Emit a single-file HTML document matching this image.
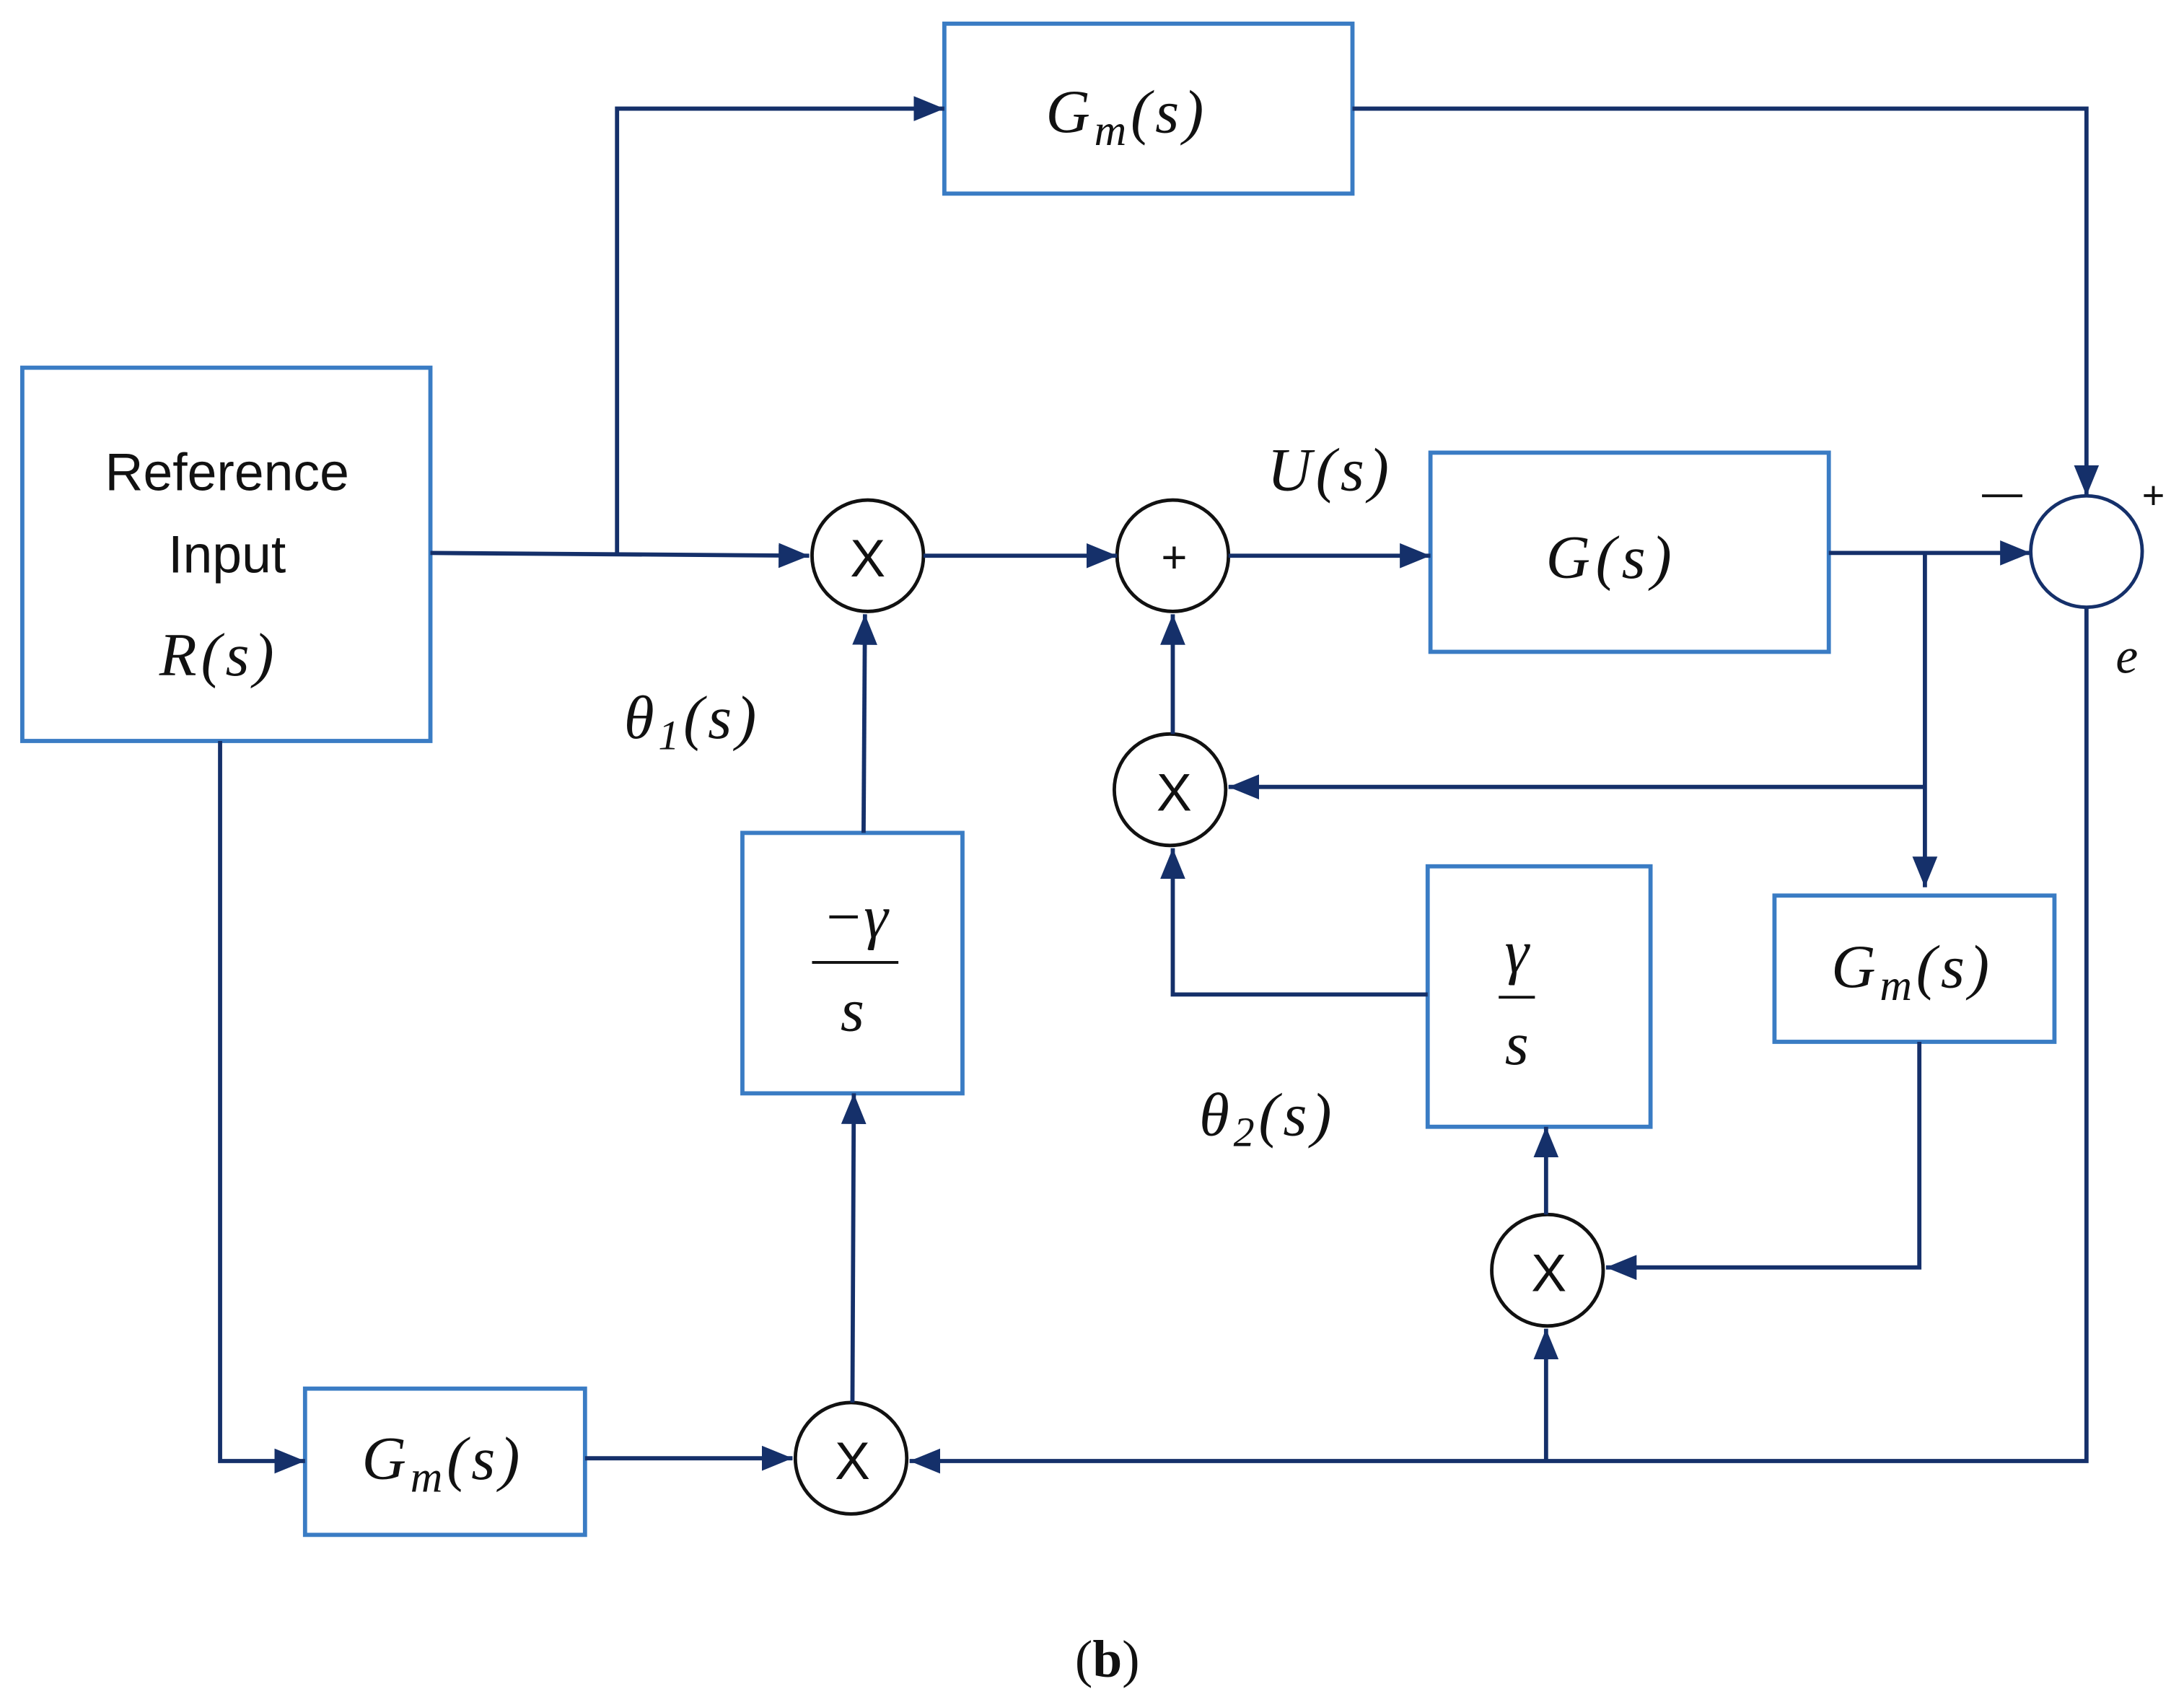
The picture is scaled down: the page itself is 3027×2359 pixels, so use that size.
<!DOCTYPE html>
<html><head><style>
html,body{margin:0;padding:0;background:#fff;}
svg{display:block;}
text{font-family:"Liberation Serif",serif;font-style:italic;fill:#111;}
.s{font-family:"Liberation Sans",sans-serif;font-style:normal;}
</style></head><body>
<svg width="3027" height="2359" viewBox="0 0 1568 1222" xmlns="http://www.w3.org/2000/svg">
<defs>
<marker id="b" markerWidth="22" markerHeight="18" refX="22" refY="9" orient="auto" markerUnits="userSpaceOnUse" viewBox="0 0 22 18">
<path d="M0,0 L22,9 L0,18 z" fill="#15306a"/></marker>
</defs>
<g fill="none" stroke="#3a7cc4" stroke-width="3">
<rect x="678" y="17" width="293" height="122"/>
<rect x="16" y="264" width="293" height="268"/>
<rect x="1027" y="325" width="286" height="143"/>
<rect x="533" y="598" width="158" height="187"/>
<rect x="1025" y="622" width="160" height="187"/>
<rect x="1274" y="643" width="201" height="105"/>
<rect x="219" y="997" width="201" height="105"/>
</g>
<g fill="none" stroke="#15306a" stroke-width="3">
<circle cx="623" cy="399" r="40" stroke="#111" stroke-width="2.5"/>
<circle cx="842" cy="399" r="40" stroke="#111" stroke-width="2.5"/>
<circle cx="1498" cy="396" r="40" stroke-width="2.5"/>
<circle cx="840" cy="567" r="40" stroke="#111" stroke-width="2.5"/>
<circle cx="1111" cy="912" r="40" stroke="#111" stroke-width="2.5"/>
<circle cx="611" cy="1047" r="40" stroke="#111" stroke-width="2.5"/>
<g marker-end="url(#b)">
<path d="M309,397 L581,399"/>
<path d="M443,398 L443,78 L678,78"/>
<path d="M971,78 L1498,78 L1498,356"/>
<path d="M663,399 L802,399"/>
<path d="M882,399 L1027,399"/>
<path d="M1313,397 L1458,397"/>
<path d="M1382,397 L1382,637"/>
<path d="M1382,565 L882,565"/>
<path d="M842,527 L842,441"/>
<path d="M1025,714 L842,714 L842,609"/>
<path d="M1378,748 L1378,910 L1153,910"/>
<path d="M1110,872 L1110,809"/>
<path d="M1498,436 L1498,1049 L653,1049"/>
<path d="M1110,1049 L1110,954"/>
<path d="M158,532 L158,1049 L219,1049"/>
<path d="M420,1047 L569,1047"/>
<path d="M612,1007 L613,785"/>
<path d="M620,598 L621,441"/>
</g>
</g>
<g font-size="44" text-anchor="middle">
<text x="809" y="95" letter-spacing="3">G<tspan font-size="32" dy="9">m</tspan><tspan dy="-9">(s)</tspan></text>
<text class="s" x="163" y="352" font-size="38">Reference</text>
<text class="s" x="163" y="411" font-size="38">Input</text>
<text x="157" y="485" letter-spacing="3">R(s)</text>
<text class="s" x="623" y="414" font-size="38">X</text>
<text class="s" x="843" y="411" font-size="32">+</text>
<text class="s" x="843" y="582" font-size="38">X</text>
<text class="s" x="1112" y="927" font-size="38">X</text>
<text class="s" x="612" y="1062" font-size="38">X</text>
<text x="1157" y="415" letter-spacing="4">G(s)</text>
<text x="955" y="352" letter-spacing="3">U(s)</text>
<text x="497" y="530" letter-spacing="3">θ<tspan font-size="30" dy="8">1</tspan><tspan dy="-8">(s)</tspan></text>
<text x="910" y="815" letter-spacing="3">θ<tspan font-size="30" dy="8">2</tspan><tspan dy="-8">(s)</tspan></text>
<text x="614" y="673">−γ</text>
<text x="612" y="740">s</text>
<text x="1089" y="698">γ</text>
<text x="1089" y="764">s</text>
<text x="1373" y="709" letter-spacing="3">G<tspan font-size="32" dy="9">m</tspan><tspan dy="-9">(s)</tspan></text>
<text x="318" y="1062" letter-spacing="3">G<tspan font-size="32" dy="9">m</tspan><tspan dy="-9">(s)</tspan></text>
<text x="1527" y="483" font-size="36">e</text>
<text class="s" x="1546" y="365" font-size="28">+</text>
<text x="795" y="1204" style="font-style:normal" font-size="38">(<tspan font-weight="bold">b</tspan>)</text>
</g>
<line x1="583" y1="691" x2="645" y2="691" stroke="#111" stroke-width="2"/>
<line x1="1076" y1="716" x2="1102" y2="716" stroke="#111" stroke-width="2"/>
<line x1="1423" y1="356" x2="1452" y2="356" stroke="#111" stroke-width="2"/>
</svg>
</body></html>
